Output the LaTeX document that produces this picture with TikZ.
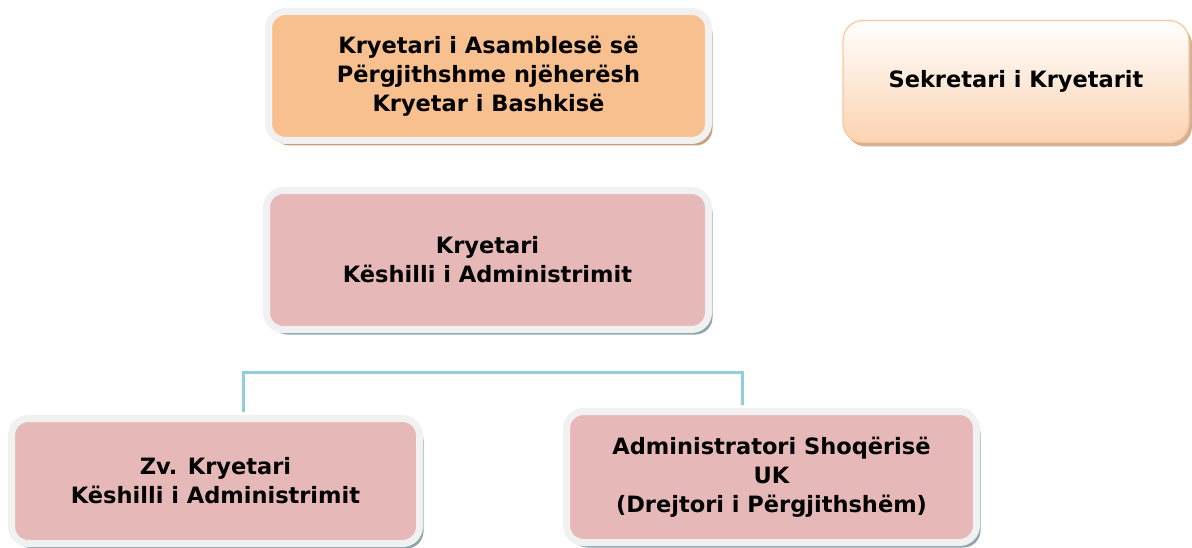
\documentclass[tikz,border=0pt]{standalone}
\usepackage{fontspec}
\setmainfont{DejaVu Sans}
\usetikzlibrary{shadows}
\definecolor{rimgray}{HTML}{F1F1F1}
\definecolor{peach}{HTML}{F9C08F}
\definecolor{rose}{HTML}{E6B8B7}
\definecolor{tealshadow}{HTML}{8DA5AC}
\definecolor{tanshadow}{HTML}{C99E7B}
\definecolor{lightpeach}{HTML}{FBD3B1}
\definecolor{peachline}{HTML}{F8C79E}
\definecolor{linkblue}{HTML}{92CDDC}
\tikzset{
  x=1pt, y=-1pt,
  boxtext/.style={font=\fontsize{22.5}{29}\selectfont\bfseries, align=center, text=black, inner sep=0pt},
  rimbox/.style={boxtext, draw=rimgray, line width=7pt, rounded corners=17pt},
  pinkbox/.style={rimbox, fill=rose, drop shadow={shadow xshift=4pt, shadow yshift=-5pt, fill=tealshadow, opacity=1}},
  orangebox/.style={rimbox, fill=peach, drop shadow={shadow xshift=4pt, shadow yshift=-5pt, fill=tanshadow, opacity=1}},
  gradbox/.style={boxtext, draw=peachline, line width=1.2pt, rounded corners=20pt, top color=white, bottom color=lightpeach,
    drop shadow={shadow xshift=3pt, shadow yshift=-4pt, fill=tanshadow, opacity=0.8}},
  link/.style={draw=linkblue, line width=3pt}
}
\begin{document}
\begin{tikzpicture}
\useasboundingbox (0,0) rectangle (1192,548);
% top row
\node[orangebox, minimum width=440pt, minimum height=129pt] (chair) at (488.5,76)
  {Kryetari i Asamblesë së\\Përgjithshme njëherësh\\Kryetar i Bashkisë};
\node[gradbox, minimum width=346pt, minimum height=122pt] (secr) at (1016,81.5)
  {Sekretari i Kryetarit};
% board chair
\node[pinkbox, minimum width=442pt, minimum height=139pt] (board) at (487.5,260)
  {Kryetari\\Këshilli i Administrimit};
% bottom row
\node[pinkbox, minimum width=408pt, minimum height=125pt] (vice) at (215.5,481)
  {Zv. Kryetari\\Këshilli i Administrimit};
\node[pinkbox, minimum width=410pt, minimum height=131pt] (admin) at (771.5,477)
  {Administratori Shoqërisë\\UK\\(Drejtori i Përgjithshëm)};
% bracket joining the bottom row
\coordinate (jl) at (243,372);
\coordinate (jr) at (742,372);
\draw[link] ([yshift=3.5pt]vice.north -| jl) -- (jl) -- (jr) -- ([yshift=3.5pt]admin.north -| jr);
\end{tikzpicture}
\end{document}
